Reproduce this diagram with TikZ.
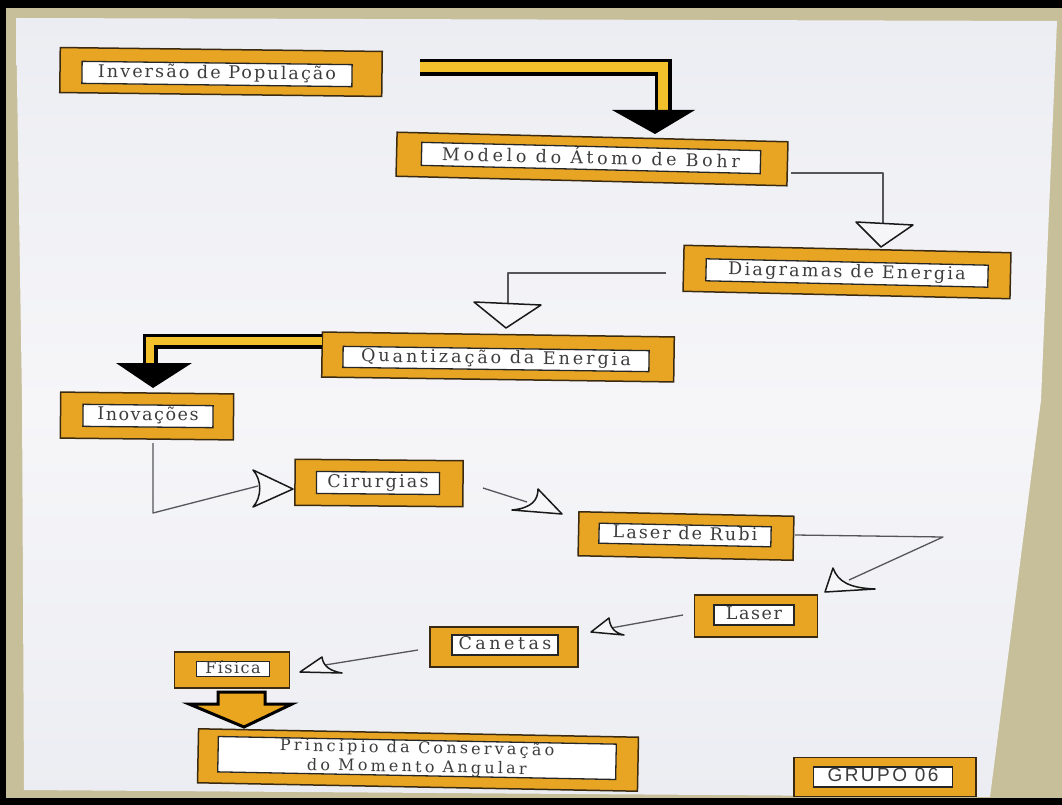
\documentclass[tikz,border=0pt]{standalone}
\usepackage{fontspec}
\newfontfamily\lblfont{DejaVu Serif}
\newfontfamily\grpfont{Liberation Sans}
\definecolor{wall}{RGB}{198,191,154}
\definecolor{paperA}{RGB}{236,237,242}
\definecolor{paperB}{RGB}{246,246,249}
\definecolor{boxorange}{RGB}{232,165,35}
\definecolor{boxedge}{RGB}{58,42,18}
\definecolor{shaftyellow}{RGB}{241,192,42}
\definecolor{blockorange}{RGB}{234,166,30}
\definecolor{ink}{RGB}{60,60,60}
\definecolor{penline}{RGB}{85,85,90}
\tikzset{
  obox/.style={draw=boxedge, line width=1.5pt, fill=boxorange, inner sep=0pt},
  ibox/.style={draw=black!85, line width=1.3pt, fill=white, inner sep=0pt,
    text=ink, text height=13pt, text depth=4pt},
  ls/.style={font=\lblfont\fontsize{17.5}{20}\selectfont\addfontfeature{LetterSpace=#1}},
  thinline/.style={draw=penline, line width=1.3pt, line join=round},
  openhead/.style={draw=black!90, line width=1.5pt, fill=paperB, line join=round},
  shaftout/.style={draw=black, line width=17pt, line join=miter},
  shaftin/.style={draw=shaftyellow, line width=10pt, line join=miter},
  bighead/.style={fill=black},
  blockarrow/.style={draw=black, line width=3pt, fill=blockorange, line join=miter}
}
\begin{document}
\begin{tikzpicture}[x=1pt,y=-1pt]
\useasboundingbox (0,0) rectangle (1062,805);
% frame, wall and sheet of paper
\fill[black] (0,0) rectangle (1062,805);
\fill[wall] (6,8) rectangle (1062,798);
\shade[top color=paperA, bottom color=paperA, middle color=paperB]
  (16,18) -- (1057,21) -- (1041,400) -- (990,797) -- (24,790) -- (22,400) -- cycle;

% boxes: orange frame with a white label inside
\node[obox, minimum width=322, minimum height=45, rotate=-0.7] (inv) at (221,72) {};
\node[ibox, ls=12, minimum width=270, minimum height=22, rotate=-0.7] (invL) at (217,74) {Inversão de População};

\node[obox, minimum width=391, minimum height=44, rotate=-1.4] (bohr) at (592,159) {};
\node[ibox, ls=21, minimum width=339, minimum height=23, rotate=-1.4,
  text height=15pt, text depth=3pt] (bohrL) at (591,158) {Modelo do Átomo de Bohr};

\node[obox, minimum width=327, minimum height=46, rotate=-1.3] (diag) at (847,272) {};
\node[ibox, ls=13, minimum width=282, minimum height=22, rotate=-1.3] (diagL) at (847,273) {Diagramas de Energia};

\node[obox, minimum width=352, minimum height=45, rotate=-0.8] (quant) at (498,357) {};
\node[ibox, ls=17, minimum width=306, minimum height=21, rotate=-0.8] (quantL) at (496,359) {Quantização da Energia};

\node[obox, minimum width=173, minimum height=46, rotate=-0.6] (inov) at (147,416) {};
\node[ibox, ls=9, minimum width=130, minimum height=22, rotate=-0.6] (inovL) at (148,416) {Inovações};

\node[obox, minimum width=168, minimum height=46, rotate=-0.5] (cir) at (379,483) {};
\node[ibox, ls=13, minimum width=123, minimum height=22, rotate=-0.5] (cirL) at (378,483) {Cirurgias};

\node[obox, minimum width=215, minimum height=44, rotate=-1.2] (rubi) at (686,536) {};
\node[ibox, ls=12, minimum width=172, minimum height=20, rotate=-1.2] (rubiL) at (685,535) {Laser de Rubi};

\node[obox, minimum width=123, minimum height=42] (laser) at (756,616) {};
\node[ibox, ls=9, minimum width=80, minimum height=20] (laserL) at (754,615) {Laser};

\node[obox, minimum width=148, minimum height=40] (can) at (504,647) {};
\node[ibox, ls=20, minimum width=106, minimum height=20] (canL) at (505,645) {Canetas};

\node[obox, minimum width=115, minimum height=36] (fis) at (232,670) {};
\node[ibox, font=\lblfont\fontsize{16}{18}\selectfont\addfontfeature{LetterSpace=9},
  text height=11pt, text depth=3pt, minimum width=73, minimum height=15] (fisL) at (233,669) {Física};

\node[obox, minimum width=440, minimum height=54, rotate=-1.1] (princ) at (418,760) {};
\node[ibox, minimum width=398, minimum height=35, rotate=-1.1, align=center,
  font=\lblfont\fontsize{16}{19}\selectfont\addfontfeature{LetterSpace=20},
  text height=, text depth=] (princL) at (417,758)
  {Princípio da Conservação\\do Momento Angular};

\node[obox, minimum width=182, minimum height=39] (grupo) at (885,777) {};
\node[ibox, minimum width=139, minimum height=20,
  font=\grpfont\fontsize{19}{21}\selectfont\addfontfeature{LetterSpace=13}] (grupoL) at (883,777) {GRUPO 06};

% thick two-edged arrows with black heads
\coordinate (a1s) at (420,67.5);
\coordinate (a1k) at (663,67.5);
\coordinate (a1e) at (663,111);
\draw[shaftout] (a1s) -- (a1k) -- (a1e);
\draw[shaftin] (a1s) -- (a1k) -- (a1e);
\fill[bighead] (612,110) -- (695,110) -- (655,134) -- cycle;

\coordinate (a2s) at (322,341);
\coordinate (a2k) at (150,341);
\coordinate (a2e) at (150,364);
\draw[shaftout, line width=15pt] (a2s) -- (a2k) -- (a2e);
\draw[shaftin, line width=8pt] (a2s) -- (a2k) -- (a2e);
\fill[bighead] (116,363) -- (192,363) -- (153,388) -- cycle;

% outlined block arrow from Física down to the principle
\draw[blockarrow] (218,692) -- (265,692) -- (265,704) -- (292,704) -- (244,727)
  -- (189,704) -- (218,704) -- cycle;

% thin pen connectors with open heads
\coordinate (b1) at (791,173);
\coordinate (b2) at (883,173);
\coordinate (b3) at (883,223);
\draw[thinline] (b1) -- (b2) -- (b3);
\draw[openhead] (856,222) -- (913,225) -- (881,247) -- cycle;

\coordinate (c1) at (666,273);
\coordinate (c2) at (508,273);
\coordinate (c3) at (508,304);
\draw[thinline] (c1) -- (c2) -- (c3);
\draw[openhead] (474,302) -- (541,305) -- (506,328) -- cycle;

\coordinate (d1) at (153,443);
\coordinate (d2) at (153,513);
\coordinate (d3) at (258,486);
\draw[thinline] (d1) -- (d2) -- (d3);
\draw[openhead] (253,470) .. controls (262,480) and (262,497) .. (253,507) -- (293,489) -- cycle;

\coordinate (e1) at (483,488);
\coordinate (e2) at (527,502);
\draw[thinline] (e1) -- (e2);
\draw[openhead] (512,510) .. controls (532,508) and (538,500) .. (538,489) -- (562,514) -- cycle;

\coordinate (f1) at (795,535);
\coordinate (f2) at (943,537);
\coordinate (f3) at (849,580);
\draw[thinline] (f1) -- (f2) -- (f3);
\draw[openhead] (833,568) .. controls (838,582) and (850,588) .. (875,589) -- (825,592) -- cycle;

\coordinate (g1) at (683,615);
\coordinate (g2) at (611,628);
\draw[thinline] (g1) -- (g2);
\draw[openhead] (609,618) .. controls (610,628) and (615,633) .. (624,635) -- (591,632) -- cycle;

\coordinate (h1) at (418,650);
\coordinate (h2) at (325,665);
\draw[thinline] (h1) -- (h2);
\draw[openhead] (322,657) .. controls (323,666) and (330,671) .. (342,673) -- (300,672) -- cycle;
\end{tikzpicture}
\end{document}
